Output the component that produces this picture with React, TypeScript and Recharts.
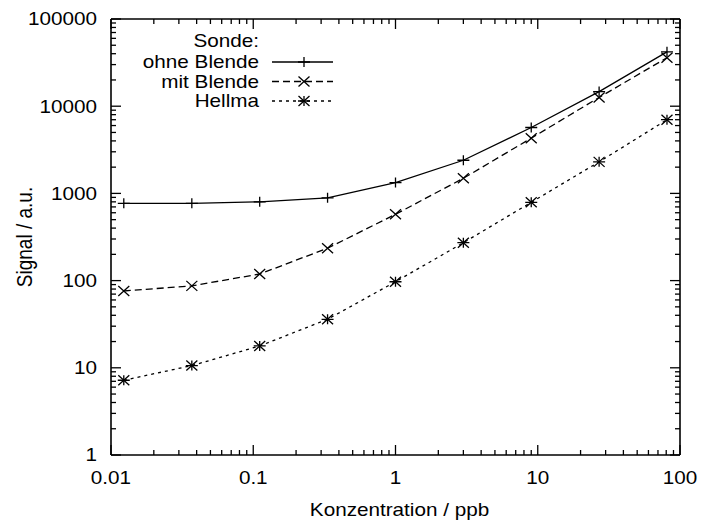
import React from "react";
import { LineChart, Line, XAxis, YAxis, Legend, Label } from "recharts";

// dilution series, ppb
const concentration = [0.0123, 0.037, 0.111, 0.333, 1, 3, 9, 27, 81];
const ohneBlende = [770, 770, 800, 890, 1330, 2400, 5700, 14700, 42000];
const mitBlende = [76, 87, 119, 235, 576, 1490, 4300, 12600, 36000];
const hellma = [7.2, 10.6, 17.8, 36, 97, 272, 790, 2300, 7000];

const seriesKeys = ["ohne", "mit", "hellma"];
const seriesNames = ["ohne Blende", "mit Blende", "Hellma"];

const xMajor = [0.01, 0.1, 1, 10, 100];
const xLabels = ["0.01", "0.1", "1", "10", "100"];
const yMajor = [1, 10, 100, 1000, 10000, 100000];
const yLabels = ["1", "10", "100", "1000", "10000", "100000"];

const minorsOf = (majors: number[]) =>
  majors
    .slice(0, -1)
    .flatMap((m) => [2, 3, 4, 5, 6, 7, 8, 9].map((k) => +(m * k).toPrecision(3)));

const xTicks = [...xMajor, ...minorsOf(xMajor)];
const yTicks = [...yMajor, ...minorsOf(yMajor)];

const data = concentration.map((c, i) => ({
  c,
  ohne: ohneBlende[i],
  mit: mitBlende[i],
  hellma: hellma[i],
}));

const FONT = '"Liberation Sans", Arial, Helvetica, sans-serif';
const FS = 18;
const SX = 1.15;
const MAJOR = 10;
const MINOR = 5;
const SW = 1.3;

const Plus = ({ cx, cy }: any) => (
  <path d={`M${cx - 6},${cy}H${cx + 6}M${cx},${cy - 5}V${cy + 5}`} stroke="#000" strokeWidth={SW} fill="none" />
);
const Cross = ({ cx, cy }: any) => (
  <path
    d={`M${cx - 5.5},${cy - 5}L${cx + 5.5},${cy + 5}M${cx - 5.5},${cy + 5}L${cx + 5.5},${cy - 5}`}
    stroke="#000"
    strokeWidth={SW}
    fill="none"
  />
);
const Star = ({ cx, cy }: any) => (
  <g>
    <Plus cx={cx} cy={cy} />
    <Cross cx={cx} cy={cy} />
  </g>
);

const seriesStyle: Record<string, { dash?: string; Mark: any }> = {
  ohne: { dash: undefined, Mark: Plus },
  mit: { dash: "7 4", Mark: Cross },
  hellma: { dash: "3 4", Mark: Star },
};

const HText = ({ x, y, anchor = "middle", children }: any) => (
  <text
    transform={`translate(${x},${y}) scale(${SX},1)`}
    textAnchor={anchor}
    dy="0.35em"
    fontSize={FS}
    fontFamily={FONT}
    fill="#000"
  >
    {children}
  </text>
);

const BottomTick = ({ x, y, payload }: any) => {
  const i = xMajor.indexOf(payload.value);
  return (
    <g>
      <line x1={x} x2={x} y1={y} y2={y - (i >= 0 ? MAJOR : MINOR)} stroke="#000" strokeWidth={SW} />
      {i >= 0 && <HText x={x} y={y + 23}>{xLabels[i]}</HText>}
    </g>
  );
};

const TopTick = ({ x, y, payload }: any) => {
  const major = xMajor.includes(payload.value);
  return <line x1={x} x2={x} y1={y} y2={y + (major ? MAJOR : MINOR)} stroke="#000" strokeWidth={SW} />;
};

const LeftTick = ({ x, y, payload }: any) => {
  const i = yMajor.indexOf(payload.value);
  return (
    <g>
      <line x1={x} x2={x + (i >= 0 ? MAJOR : MINOR)} y1={y} y2={y} stroke="#000" strokeWidth={SW} />
      {i >= 0 && (
        <HText x={x - 14} y={y} anchor="end">
          {yLabels[i]}
        </HText>
      )}
    </g>
  );
};

const RightTick = ({ x, y, payload }: any) => {
  const major = yMajor.includes(payload.value);
  return <line x1={x} x2={x - (major ? MAJOR : MINOR)} y1={y} y2={y} stroke="#000" strokeWidth={SW} />;
};

const XTitle = ({ viewBox }: any) => (
  <HText x={viewBox.x + viewBox.width / 2 + 4} y={viewBox.y + 55}>
    Konzentration / ppb
  </HText>
);

const YTitle = ({ viewBox }: any) => (
  <text
    transform={`translate(24,${viewBox.y + viewBox.height / 2}) rotate(-90) scale(1,${SX})`}
    textAnchor="middle"
    dy="0.35em"
    fontSize={19}
    fontFamily={FONT}
    fill="#000"
  >
    Signal / a.u.
  </text>
);

const renderLegend = ({ payload }: any) => {
  // keep the plotting order, whatever order the legend hands back
  const rows = [...(payload || [])].sort(
    (a: any, b: any) => seriesKeys.indexOf(a.dataKey) - seriesKeys.indexOf(b.dataKey)
  );
  return (
    <svg width={200} height={88} style={{ display: "block" }}>
      <HText x={119} y={13} anchor="end">
        Sonde:
      </HText>
      {rows.map((entry: any, i: number) => {
        const st = seriesStyle[entry.dataKey];
        const y = 34 + i * 19.5;
        const M = st.Mark;
        return (
          <g key={entry.dataKey}>
            <HText x={119} y={y} anchor="end">
              {entry.value}
            </HText>
            <line x1={132} x2={193} y1={y} y2={y} stroke="#000" strokeWidth={SW} strokeDasharray={st.dash} />
            <M cx={164} cy={y} />
          </g>
        );
      })}
    </svg>
  );
};

const axisLine = { stroke: "#000", strokeWidth: 1.6 };

export default function App() {
  return (
    <div style={{ position: "absolute", left: 0, top: 0, width: 712, height: 522, background: "#fff" }}>
      <LineChart width={712} height={522} data={data} margin={{ top: 0, right: 0, bottom: 0, left: 0 }}>
        <XAxis
          xAxisId="x"
          dataKey="c"
          type="number"
          scale="log"
          domain={[0.01, 100]}
          allowDataOverflow
          ticks={xTicks}
          interval={0}
          height={67}
          tickSize={0}
          tickMargin={0}
          tickLine={false}
          axisLine={axisLine}
          tick={<BottomTick />}
        >
          <Label content={<XTitle />} />
        </XAxis>
        <XAxis
          xAxisId="top"
          orientation="top"
          dataKey="c"
          type="number"
          scale="log"
          domain={[0.01, 100]}
          allowDataOverflow
          ticks={xTicks}
          interval={0}
          height={19}
          tickSize={0}
          tickMargin={0}
          tickLine={false}
          axisLine={axisLine}
          tick={<TopTick />}
        />
        <YAxis
          yAxisId="y"
          type="number"
          scale="log"
          domain={[1, 100000]}
          allowDataOverflow
          ticks={yTicks}
          interval={0}
          width={111}
          tickSize={0}
          tickMargin={0}
          tickLine={false}
          axisLine={axisLine}
          tick={<LeftTick />}
        >
          <Label content={<YTitle />} />
        </YAxis>
        <YAxis
          yAxisId="right"
          orientation="right"
          type="number"
          scale="log"
          domain={[1, 100000]}
          allowDataOverflow
          ticks={yTicks}
          interval={0}
          width={32}
          tickSize={0}
          tickMargin={0}
          tickLine={false}
          axisLine={axisLine}
          tick={<RightTick />}
        />
        <Legend
          content={renderLegend}
          layout="horizontal"
          verticalAlign="middle"
          align="center"
          wrapperStyle={{ left: 140, top: 28, width: 200, height: 88 }}
        />
        {seriesKeys.map((k, idx) => {
          const st = seriesStyle[k];
          const M = st.Mark;
          return (
            <Line
              key={k}
              xAxisId="x"
              yAxisId="y"
              dataKey={k}
              name={seriesNames[idx]}
              type="linear"
              stroke="#000"
              strokeWidth={SW}
              strokeDasharray={st.dash}
              dot={(p: any) => <M key={`${k}-${p.index}`} cx={p.cx} cy={p.cy} />}
              activeDot={false}
              isAnimationActive={false}
            />
          );
        })}
      </LineChart>
    </div>
  );
}
